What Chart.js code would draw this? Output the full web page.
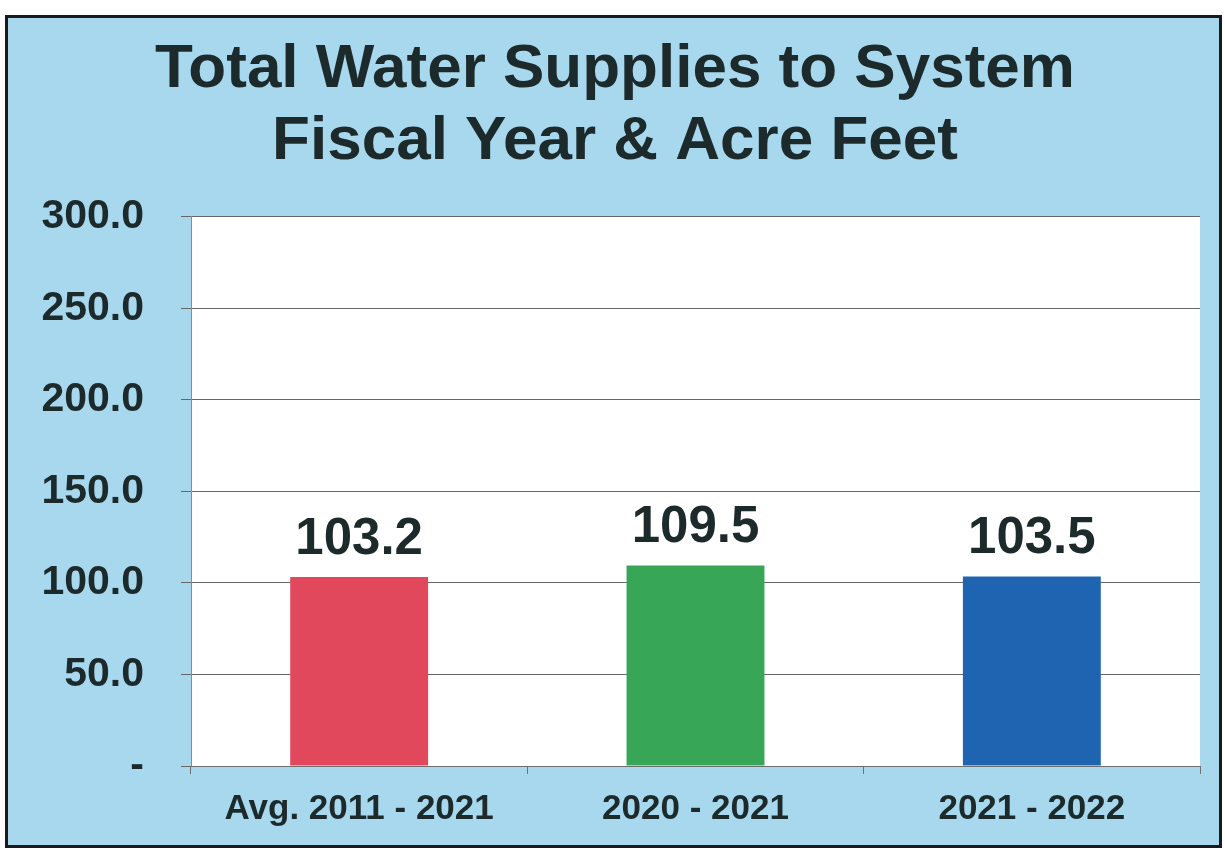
<!DOCTYPE html>
<html>
<head>
<meta charset="utf-8">
<title>Total Water Supplies to System</title>
<script src="https://cdn.jsdelivr.net/npm/chart.js@4"></script>
<style>
  html, body { margin: 0; padding: 0; background: #fff; }
  #frame {
    position: absolute;
    left: 5px;
    top: 15px;
    width: 1211px;
    height: 827px;
    border: 3px solid #1a1a1a;
    background: #a8d8ed;
  }
</style>
</head>
<body>
<div id="frame"><canvas id="supplyChart" width="1211" height="827"></canvas></div>
<script>
// Acre feet (thousands) by fiscal year
var categories = ["Avg. 2011 - 2021", "2020 - 2021", "2021 - 2022"];
var supplies = [103.2, 109.5, 103.5];
var barColors = ["#e2485b", "#37a757", "#1f64b1"];
var titleLines = ["Total Water Supplies to System", "Fiscal Year & Acre Feet"];

var textColor = "#1d2a2c";
var fontFamily = "'Liberation Sans', Arial, sans-serif";

// white plot area over the blue backdrop
var plotBackground = {
  id: "plotBackground",
  beforeDraw: function (chart) {
    var a = chart.chartArea;
    var ctx = chart.ctx;
    ctx.save();
    ctx.fillStyle = "#ffffff";
    ctx.fillRect(a.left, a.top, a.right - a.left, a.bottom - a.top);
    ctx.restore();
  },
};

// value printed above each bar
var valueLabels = {
  id: "valueLabels",
  afterDatasetsDraw: function (chart) {
    var ctx = chart.ctx;
    var meta = chart.getDatasetMeta(0);
    ctx.save();
    ctx.font = "bold 51px " + fontFamily;
    ctx.fillStyle = textColor;
    ctx.textAlign = "center";
    ctx.textBaseline = "bottom";
    meta.data.forEach(function (bar, i) {
      ctx.fillText(supplies[i].toFixed(1), bar.x, bar.y - 12);
    });
    ctx.restore();
  },
};

var ctx = document.getElementById("supplyChart").getContext("2d");
var chart = new Chart(ctx, {
  type: "bar",
  data: {
    labels: categories,
    datasets: [
      {
        data: supplies,
        backgroundColor: barColors,
        borderColor: barColors,
        borderWidth: 0,
        barPercentage: 0.41,
        categoryPercentage: 1.0,
      },
    ],
  },
  options: {
    responsive: false,
    animation: false,
    layout: {
      padding: { left: 22, right: 19, top: 0, bottom: 0 },
    },
    plugins: {
      legend: { display: false },
      tooltip: { enabled: false },
      title: {
        display: true,
        text: titleLines,
        color: textColor,
        font: { family: fontFamily, size: 62, weight: "bold", lineHeight: 1.16 },
        padding: { top: 16, bottom: 39 },
      },
    },
    scales: {
      y: {
        min: 0,
        max: 300,
        ticks: {
          stepSize: 50,
          color: textColor,
          padding: 37,
          font: { family: fontFamily, size: 41, weight: "bold" },
          callback: function (v) {
            return v === 0 ? "-" : Number(v).toFixed(1);
          },
        },
        grid: {
          color: "#666666",
          lineWidth: 1,
          tickLength: 10,
        },
        border: { display: true, color: "#8a8a8a", width: 1 },
        afterFit: function (scale) {
          scale.width = 161;
        },
      },
      x: {
        ticks: {
          color: textColor,
          padding: 14,
          font: { family: fontFamily, size: 35, weight: "bold" },
        },
        grid: {
          drawOnChartArea: false,
          color: "#6f6f6f",
          tickLength: 8,
        },
        border: { display: true, color: "#6f6f6f", width: 1 },
        afterFit: function (scale) {
          scale.height = 79;
        },
      },
    },
  },
  plugins: [plotBackground, valueLabels],
});
</script>
</body>
</html>
